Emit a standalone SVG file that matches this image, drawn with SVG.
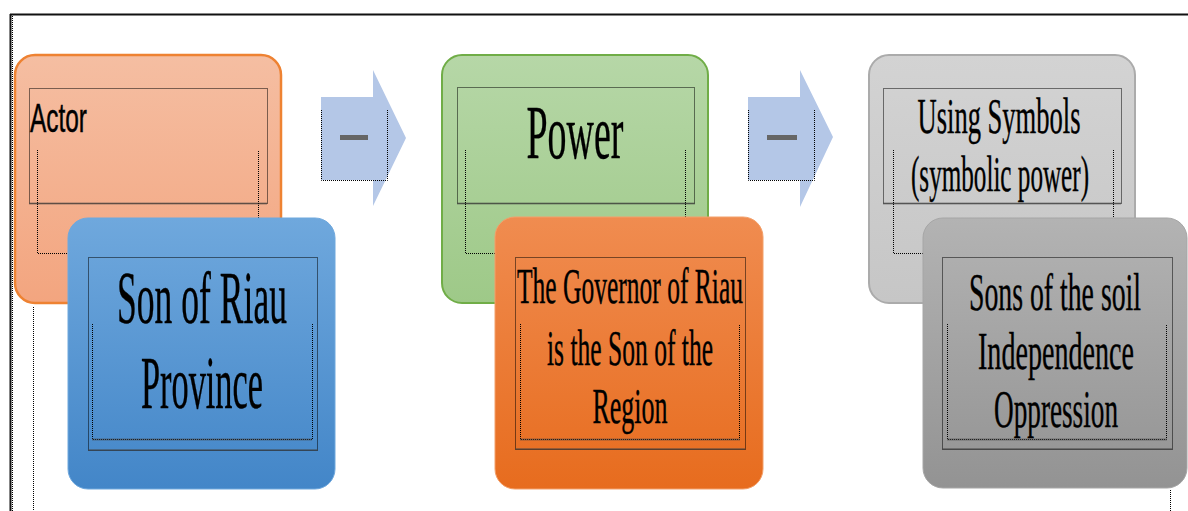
<svg xmlns="http://www.w3.org/2000/svg" width="1188" height="511" viewBox="0 0 1188 511">
<defs>
<linearGradient id="gPeach" x1="0" y1="0" x2="0" y2="1"><stop offset="0" stop-color="#f5bea2"/><stop offset="1" stop-color="#f3a57f"/></linearGradient>
<linearGradient id="gBlue" x1="0" y1="0" x2="0" y2="1"><stop offset="0" stop-color="#6fa8dd"/><stop offset="1" stop-color="#4386c8"/></linearGradient>
<linearGradient id="gGreen" x1="0" y1="0" x2="0" y2="1"><stop offset="0" stop-color="#b6d7a7"/><stop offset="1" stop-color="#9ec988"/></linearGradient>
<linearGradient id="gOrange" x1="0" y1="0" x2="0" y2="1"><stop offset="0" stop-color="#f08c50"/><stop offset="1" stop-color="#e76c1e"/></linearGradient>
<linearGradient id="gGray1" x1="0" y1="0" x2="0" y2="1"><stop offset="0" stop-color="#d3d3d3"/><stop offset="1" stop-color="#c6c6c6"/></linearGradient>
<linearGradient id="gGray2" x1="0" y1="0" x2="0" y2="1"><stop offset="0" stop-color="#b3b3b3"/><stop offset="1" stop-color="#939393"/></linearGradient>
</defs>
<style>
.dot{fill:none;stroke:#000;stroke-width:1;stroke-dasharray:1 1}
.dotb{fill:none;stroke:#444;stroke-width:2;stroke-dasharray:1 1}
.serif{font-family:"Liberation Serif","Times New Roman",serif;fill:#000;stroke:#000;stroke-width:0.4;text-anchor:middle}
.sans{font-family:"Liberation Sans",Arial,sans-serif;fill:#000;stroke:#000;stroke-width:0.5}
.arrow{fill:#b4c7e7}
.dash{fill:#666}
</style>
<rect width="1188" height="511" fill="#fff"/>
<g id="frame">
<line x1="10" y1="14.5" x2="1188" y2="14.5" stroke="#111" stroke-width="2"/>
<line x1="10.5" y1="14" x2="10.5" y2="511" stroke="#111" stroke-width="2"/>
<line x1="12.5" y1="16" x2="12.5" y2="511" class="dot"/>
<line x1="33.5" y1="307" x2="33.5" y2="511" class="dot"/>
<line x1="1170.5" y1="490" x2="1170.5" y2="511" class="dot"/>
</g>
<g id="actor">
<rect x="15" y="55" width="266" height="248" rx="20" fill="url(#gPeach)" stroke="#ee8232" stroke-width="2.5"/>
<rect x="29.5" y="88.5" width="238" height="115" class="dot"/>
<line x1="29.5" y1="203.5" x2="267.5" y2="203.5" class="dotb"/>
<path d="M37.5,150 V253.5 H258.5 V150" class="dot"/>
<text x="30" y="132" class="sans" font-size="41" textLength="57" lengthAdjust="spacingAndGlyphs">Actor</text>
</g>
<g id="son-of-riau">
<rect x="68" y="218" width="267" height="271" rx="20" fill="url(#gBlue)" stroke="#6fa8dd" stroke-width="1"/>
<rect x="88.5" y="257.5" width="229" height="193" class="dot"/>
<line x1="88.5" y1="450" x2="317.5" y2="450" class="dotb"/>
<path d="M92.5,324 V439.5 H312.5 V324" class="dot"/>
<line x1="92.5" y1="439.5" x2="312.5" y2="439.5" class="dotb"/>
<text x="202" y="323" class="serif" font-size="74" textLength="170" lengthAdjust="spacingAndGlyphs">Son of Riau</text>
<text x="202" y="408" class="serif" font-size="74" textLength="122" lengthAdjust="spacingAndGlyphs">Province</text>
</g>
<g id="power">
<rect x="442" y="55" width="266" height="248" rx="20" fill="url(#gGreen)" stroke="#70ad47" stroke-width="2"/>
<rect x="457.5" y="87.5" width="237" height="116" class="dot"/>
<line x1="457.5" y1="203.5" x2="694.5" y2="203.5" class="dotb"/>
<path d="M465.5,150 V253.5 H685.5 V150" class="dot"/>
<text x="575" y="158" class="serif" font-size="76" textLength="97" lengthAdjust="spacingAndGlyphs">Power</text>
</g>
<g id="governor">
<rect x="495" y="217" width="268" height="272" rx="20" fill="url(#gOrange)" stroke="#f3a06a" stroke-width="1"/>
<rect x="515.5" y="257.5" width="230" height="192" class="dot"/>
<line x1="515.5" y1="449" x2="745.5" y2="449" class="dotb"/>
<path d="M520.5,324 V439.5 H739.5 V324" class="dot"/>
<line x1="520.5" y1="439.5" x2="739.5" y2="439.5" class="dotb"/>
<text x="630" y="303" class="serif" font-size="50" textLength="226" lengthAdjust="spacingAndGlyphs">The Governor of Riau</text>
<text x="630" y="365" class="serif" font-size="50" textLength="166" lengthAdjust="spacingAndGlyphs">is the Son of the</text>
<text x="630" y="423" class="serif" font-size="50" textLength="75" lengthAdjust="spacingAndGlyphs">Region</text>
</g>
<g id="symbols">
<rect x="869" y="55" width="266" height="248" rx="20" fill="url(#gGray1)" stroke="#ababab" stroke-width="2"/>
<rect x="883.5" y="88.5" width="238" height="115" class="dot"/>
<line x1="883.5" y1="203.5" x2="1121.5" y2="203.5" class="dotb"/>
<path d="M893.5,150 V253.5 H1113.5 V150" class="dot"/>
<text x="999" y="133" class="serif" font-size="50" textLength="163" lengthAdjust="spacingAndGlyphs">Using Symbols</text>
<text x="1000" y="191" class="serif" font-size="50" textLength="178" lengthAdjust="spacingAndGlyphs">(symbolic power)</text>
</g>
<g id="sons-of-soil">
<rect x="923" y="218" width="264" height="270" rx="20" fill="url(#gGray2)" stroke="#a6a6a6" stroke-width="1"/>
<rect x="942.5" y="257.5" width="230" height="192" class="dot"/>
<line x1="942.5" y1="449" x2="1172.5" y2="449" class="dotb"/>
<path d="M947.5,324 V439.5 H1166.5 V324" class="dot"/>
<line x1="947.5" y1="439.5" x2="1166.5" y2="439.5" class="dotb"/>
<text x="1055" y="310" class="serif" font-size="52" textLength="172" lengthAdjust="spacingAndGlyphs">Sons of the soil</text>
<text x="1056" y="369" class="serif" font-size="52" textLength="156" lengthAdjust="spacingAndGlyphs">Independence</text>
<text x="1056" y="427" class="serif" font-size="52" textLength="124" lengthAdjust="spacingAndGlyphs">Oppression</text>
</g>
<g id="connectors">
<g id="arrow1">
<path class="arrow" d="M321,97 H373 V70 L406,138 L373,206 V180 H321 Z"/>
<path class="dot" d="M321.5,110 V180.5 H387.5 V110"/>
<rect class="dash" x="340" y="135" width="28" height="5"/>
</g>
<g id="arrow2">
<path class="arrow" d="M748,97 H800 V70 L833,137 L800,207 V180 H748 Z"/>
<path class="dot" d="M748.5,110 V180.5 H814.5 V110"/>
<rect class="dash" x="767" y="135" width="30" height="5"/>
</g>
</g>
</svg>
